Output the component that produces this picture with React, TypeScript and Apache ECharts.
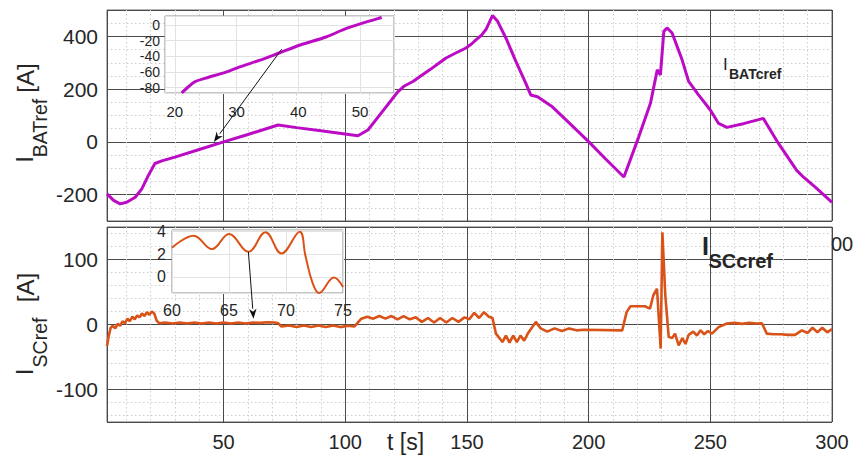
import React, { useEffect, useRef } from "react";
import * as echarts from "echarts";

// ---------- data ----------
const tBat = [
  2.1, 4.8, 7.5, 10.2, 13.7, 16.4, 19.1, 21.8, 24.6, 30, 40, 50, 60, 72.4,
  80, 90, 105.2, 109.3, 115, 121.6, 124.3, 128, 131, 135, 138, 141.4, 145,
  149.6, 152, 153.7, 156, 157.8, 160.5, 162.6, 166, 170.1, 174.2, 176.2, 179,
  185.1, 192, 200.1, 207, 214.5, 220.6, 225.4, 228.2, 229.5, 230.9, 232.2,
  234.3, 238.4, 241.1, 245, 250, 253.4, 256.8, 264, 271.8, 278, 285.5, 288.2,
  293, 300,
];
const iBat = [
  -197, -222, -235, -229, -210, -178, -127, -82, -72, -58, -29, 0, 28, 64,
  54, 42, 23, 45, 112, 190, 212, 230, 250, 275, 295, 318, 335,
  356, 372, 387, 405, 426, 479, 457, 394, 305, 222, 178, 171,
  133, 72, 0, -65, -133, 19, 146, 273, 254, 419, 432,
  413, 311, 229, 180, 121, 70, 55, 70, 89, -6, -108, -133,
  -171, -229,
];

const tSc = [
  2.1, 2.8, 3.6, 4.5, 5.5, 6.5, 7.5, 8.5, 9.5, 10.5, 11.5, 12.5, 13.5, 14.5,
  15.5, 16.5, 17.5, 18.5, 19.5, 20.5, 21.5, 22.5, 23.5,
  26, 29, 32, 35, 38, 41, 44, 47, 50, 53, 56, 59, 62, 65, 68, 71, 72.4, 73.8,
  77, 80, 83, 86, 89, 92, 95, 98, 101, 103.8, 106.6,
  109, 111.5, 114, 116.5, 119, 121.5, 124, 126.5, 129, 131.5, 134, 136.5, 139,
  141.5, 144, 146.5, 149, 151, 153, 155, 157, 159, 160.5, 161.9,
  164.6, 166, 167.5, 169, 170.5, 172, 173.5, 175, 178.3, 180.3,
  183, 186, 189, 192, 195, 198, 213.8, 215.6, 217.2, 220, 223.1, 225.2, 226.6,
  228.1, 229.6, 230.3, 231.5, 232.9, 234.3, 235.5, 237, 238.5, 239.8, 241.1,
  243, 244.5, 246, 247.5, 249, 250.7, 253.4, 256.8, 260, 263, 266, 269, 271.2,
  273.2, 276, 279, 282, 284.8, 287.6,
  290, 292, 294, 296, 298, 300,
];
const iSc = [
  -33, -18, -5, -2, -6, 1, -2, 5, 2, 9, 5, 12, 8, 14,
  11, 17, 13, 19, 15, 20, 17, 6, 2,
  3, 1.5, 3, 1.5, 3, 1.5, 3, 1.5, 3, 1.5, 3, 1.5, 3, 2.5, 3.5, 3, 2, -3,
  -1.5, -4, -1.5, -4, -1.5, -4, -1.5, -4, -2, -3, 9,
  12, 9, 13, 9, 13, 8, 13, 8, 11, 4, 10, 3, 10,
  3, 10, 4, 11, 8, 18, 10, 19, 12, 10, -14,
  -27, -17, -28, -17, -27, -17, -25, -14, 4, -6,
  -11, -6, -10, -6, -9, -8, -9, 19, 28, 28, 28, 24.5, 45,
  55, -37, 142, 45, -19, -21, -14, -32, -21, -30, -16,
  -11, -17, -9, -15, -10, -14, -4, 1.5, 2.5, 1, 2.5, 1.5, 2,
  -14, -15, -15, -16, -16, -9,
  -13, -5, -12, -5, -12, -7,
];

// zoomed views (insets)
const tBatZoom = [21.1, 22.2, 23.2, 25, 28.4, 30.5, 33.8, 37, 40.3, 44.6, 47.9, 53.5];
const iBatZoom = [-86.9, -79, -72.8, -68, -60, -53.6, -45, -35.5, -25.6, -15, -4, 9.7];

const tScZoom = [60, 61.9, 63.5, 65, 66.7, 68.2, 69.6, 71.2, 71.7, 72.3, 72.9, 74.2, 75];
const iScZoom = [2.58, 3.64, 2.46, 3.8, 2.22, 3.95, 2.08, 4.0, 1.9, -0.44, -1.42, -0.05, -0.9];

// arrows: [inset point] -> [main point]
const arrowTopFrom = [37.3, -31];
const arrowTopTo = [46, 0];
const arrowBotFrom = [66.7, 2.22];
const arrowBotTo = [62.3, 9];

// ---------- styles ----------
const FONT = "'Liberation Sans', Arial, Helvetica, sans-serif";
const TXT = "#262626";
const MAGENTA = "#bb0bc4";
const ORANGE = "#d95319";

const zip = (a: number[], b: number[]) => a.map((v, i) => [v, b[i]]);

export default function App() {
  const ref = useRef<HTMLDivElement>(null);
  useEffect(() => {
    const chart = echarts.init(ref.current!, null, { renderer: "svg" });

    const majorSplit = { show: true, lineStyle: { color: "#4a4a4a", width: 1 } };
    const minorSplit = {
      show: true,
      lineStyle: { color: "#cdcdcd", width: 1, type: [1.5, 2.5] },
    };
    const insetSplit = { show: true, lineStyle: { color: "#e2e2e2", width: 1 } };

    const mainX = (gridIndex: number, showLabel: boolean) => ({
      type: "value",
      gridIndex,
      min: 2.1,
      max: 300,
      splitNumber: 6,
      axisLine: { show: false },
      axisTick: { show: false },
      axisLabel: {
        show: showLabel,
        fontSize: 20,
        color: TXT,
        fontFamily: FONT,
        margin: 10,
        showMinLabel: false,
        showMaxLabel: true,
      },
      splitLine: majorSplit,
      minorTick: { show: false, splitNumber: 5 },
      minorSplitLine: minorSplit,
    });

    const option: any = {
      animation: false,
      backgroundColor: "#fff",
      textStyle: { fontFamily: FONT },
      grid: [
        { left: 107, top: 10, width: 725, height: 211, show: true, borderColor: "#6a6a6a", borderWidth: 1, backgroundColor: "transparent" },
        { left: 107, top: 227, width: 725, height: 195, show: true, borderColor: "#6a6a6a", borderWidth: 1, backgroundColor: "transparent" },
        { left: 165, top: 16, width: 229, height: 77, show: true, backgroundColor: "#fff", borderColor: "#8c8c8c", borderWidth: 1, z: 3 },
        { left: 172, top: 230, width: 171, height: 63, show: true, backgroundColor: "#fff", borderColor: "#8c8c8c", borderWidth: 1, z: 3 },
      ],
      xAxis: [
        mainX(0, false),
        mainX(1, true),
        {
          type: "value",
          gridIndex: 2,
          min: 18.4,
          max: 55.5,
          splitNumber: 4,
          z: 4,
          axisLine: { show: false },
          axisTick: { show: false },
          axisLabel: { fontSize: 15, color: TXT, fontFamily: FONT, margin: 11, showMinLabel: false, showMaxLabel: false },
          splitLine: insetSplit,
        },
        {
          type: "value",
          gridIndex: 3,
          min: 60,
          max: 75,
          interval: 5,
          z: 4,
          axisLine: { show: false },
          axisTick: { show: false },
          axisLabel: { fontSize: 16, color: TXT, fontFamily: FONT, margin: 9 },
          splitLine: insetSplit,
        },
      ],
      yAxis: [
        {
          type: "value",
          gridIndex: 0,
          min: -300,
          max: 500,
          splitNumber: 4,
          axisLine: { show: false },
          axisTick: { show: false },
          axisLabel: { fontSize: 21, color: TXT, fontFamily: FONT, margin: 9, showMinLabel: false, showMaxLabel: false },
          splitLine: majorSplit,
          minorTick: { show: false, splitNumber: 4 },
          minorSplitLine: minorSplit,
        },
        {
          type: "value",
          gridIndex: 1,
          min: -150,
          max: 150,
          splitNumber: 3,
          axisLine: { show: false },
          axisTick: { show: false },
          axisLabel: { fontSize: 21, color: TXT, fontFamily: FONT, margin: 9, showMinLabel: false, showMaxLabel: false },
          splitLine: majorSplit,
          minorTick: { show: false, splitNumber: 5 },
          minorSplitLine: minorSplit,
        },
        {
          type: "value",
          gridIndex: 2,
          min: -87,
          max: 11.5,
          splitNumber: 5,
          z: 4,
          axisLine: { show: false },
          axisTick: { show: false },
          axisLabel: { fontSize: 14, color: TXT, fontFamily: FONT, margin: 5, showMinLabel: false, showMaxLabel: false },
          splitLine: insetSplit,
        },
        {
          type: "value",
          gridIndex: 3,
          min: -1.42,
          max: 4.15,
          splitNumber: 3,
          z: 4,
          axisLine: { show: false },
          axisTick: { show: false },
          axisLabel: { fontSize: 16, color: TXT, fontFamily: FONT, margin: 6, showMinLabel: false, showMaxLabel: false },
          splitLine: insetSplit,
        },
      ],
      series: [
        {
          type: "line",
          xAxisIndex: 0,
          yAxisIndex: 0,
          data: zip(tBat, iBat),
          showSymbol: false,
          lineStyle: { color: MAGENTA, width: 3 },
          z: 2,
        },
        {
          type: "line",
          xAxisIndex: 1,
          yAxisIndex: 1,
          data: zip(tSc, iSc),
          showSymbol: false,
          lineStyle: { color: ORANGE, width: 2.6 },
          z: 2,
        },
        {
          type: "line",
          xAxisIndex: 2,
          yAxisIndex: 2,
          data: zip(tBatZoom, iBatZoom),
          showSymbol: false,
          smooth: 0.3,
          lineStyle: { color: MAGENTA, width: 3 },
          z: 6,
        },
        {
          type: "line",
          xAxisIndex: 3,
          yAxisIndex: 3,
          data: zip(tScZoom, iScZoom),
          showSymbol: false,
          smooth: 0.4,
          lineStyle: { color: ORANGE, width: 2 },
          z: 6,
        },
      ],
    };
    chart.setOption(option);

    const arrow = (fromGrid: number, from: number[], toGrid: number, to: number[]) => {
      const p0 = chart.convertToPixel({ gridIndex: fromGrid }, from) as number[];
      const p1 = chart.convertToPixel({ gridIndex: toGrid }, to) as number[];
      const dx = p1[0] - p0[0];
      const dy = p1[1] - p0[1];
      const len = Math.sqrt(dx * dx + dy * dy);
      const ux = dx / len;
      const uy = dy / len;
      const hl = 10;
      const hw = 3.8;
      const bx = p1[0] - ux * hl;
      const by = p1[1] - uy * hl;
      return [
        {
          type: "line",
          z: 20,
          shape: { x1: p0[0], y1: p0[1], x2: bx, y2: by },
          style: { stroke: "#111", lineWidth: 1 },
        },
        {
          type: "polygon",
          z: 20,
          shape: {
            points: [
              [p1[0], p1[1]],
              [bx - uy * hw, by + ux * hw],
              [bx + ux * 3, by + uy * 3],
              [bx + uy * hw, by - ux * hw],
            ],
          },
          style: { fill: "#111" },
        },
      ];
    };

    const txt = (x: number, y: number, text: string, size: number, opts: any = {}) => ({
      type: "text",
      x,
      y,
      z: 20,
      rotation: opts.rotation || 0,
      style: {
        text,
        fill: TXT,
        font: `${opts.bold ? "bold " : ""}${size}px ${FONT}`,
        align: opts.align || "left",
        verticalAlign: "middle",
      },
    });

    const rot = { rotation: Math.PI / 2, align: "center" };
    chart.setOption({
      graphic: [
        ...arrow(2, arrowTopFrom, 0, arrowTopTo),
        ...arrow(3, arrowBotFrom, 1, arrowBotTo),
        // y-axis names
        txt(24.5, 159.5, "I", 24, rot),
        txt(40, 128, "BATref", 19.5, rot),
        txt(25, 78, "[A]", 24, rot),
        txt(24.5, 372, "I", 24, rot),
        txt(40, 342.5, "SCref", 19.5, rot),
        txt(25, 287.5, "[A]", 24, rot),
        // x-axis name
        txt(387, 442, "t [s]", 23),
        // annotations
        txt(723, 64, "I", 17),
        txt(729, 73.5, "BATcref", 14, { bold: true }),
        txt(702, 246, "I", 25, { bold: true }),
        txt(708.5, 260.5, "SCcref", 20, { bold: true }),
        // partially hidden tick label of upper axis
        txt(831, 243.5, "00", 20),
      ],
    });

    return () => chart.dispose();
  }, []);
  return (
    <div
      ref={ref}
      style={{ position: "fixed", left: 0, top: 0, width: 855, height: 459 }}
    />
  );
}
